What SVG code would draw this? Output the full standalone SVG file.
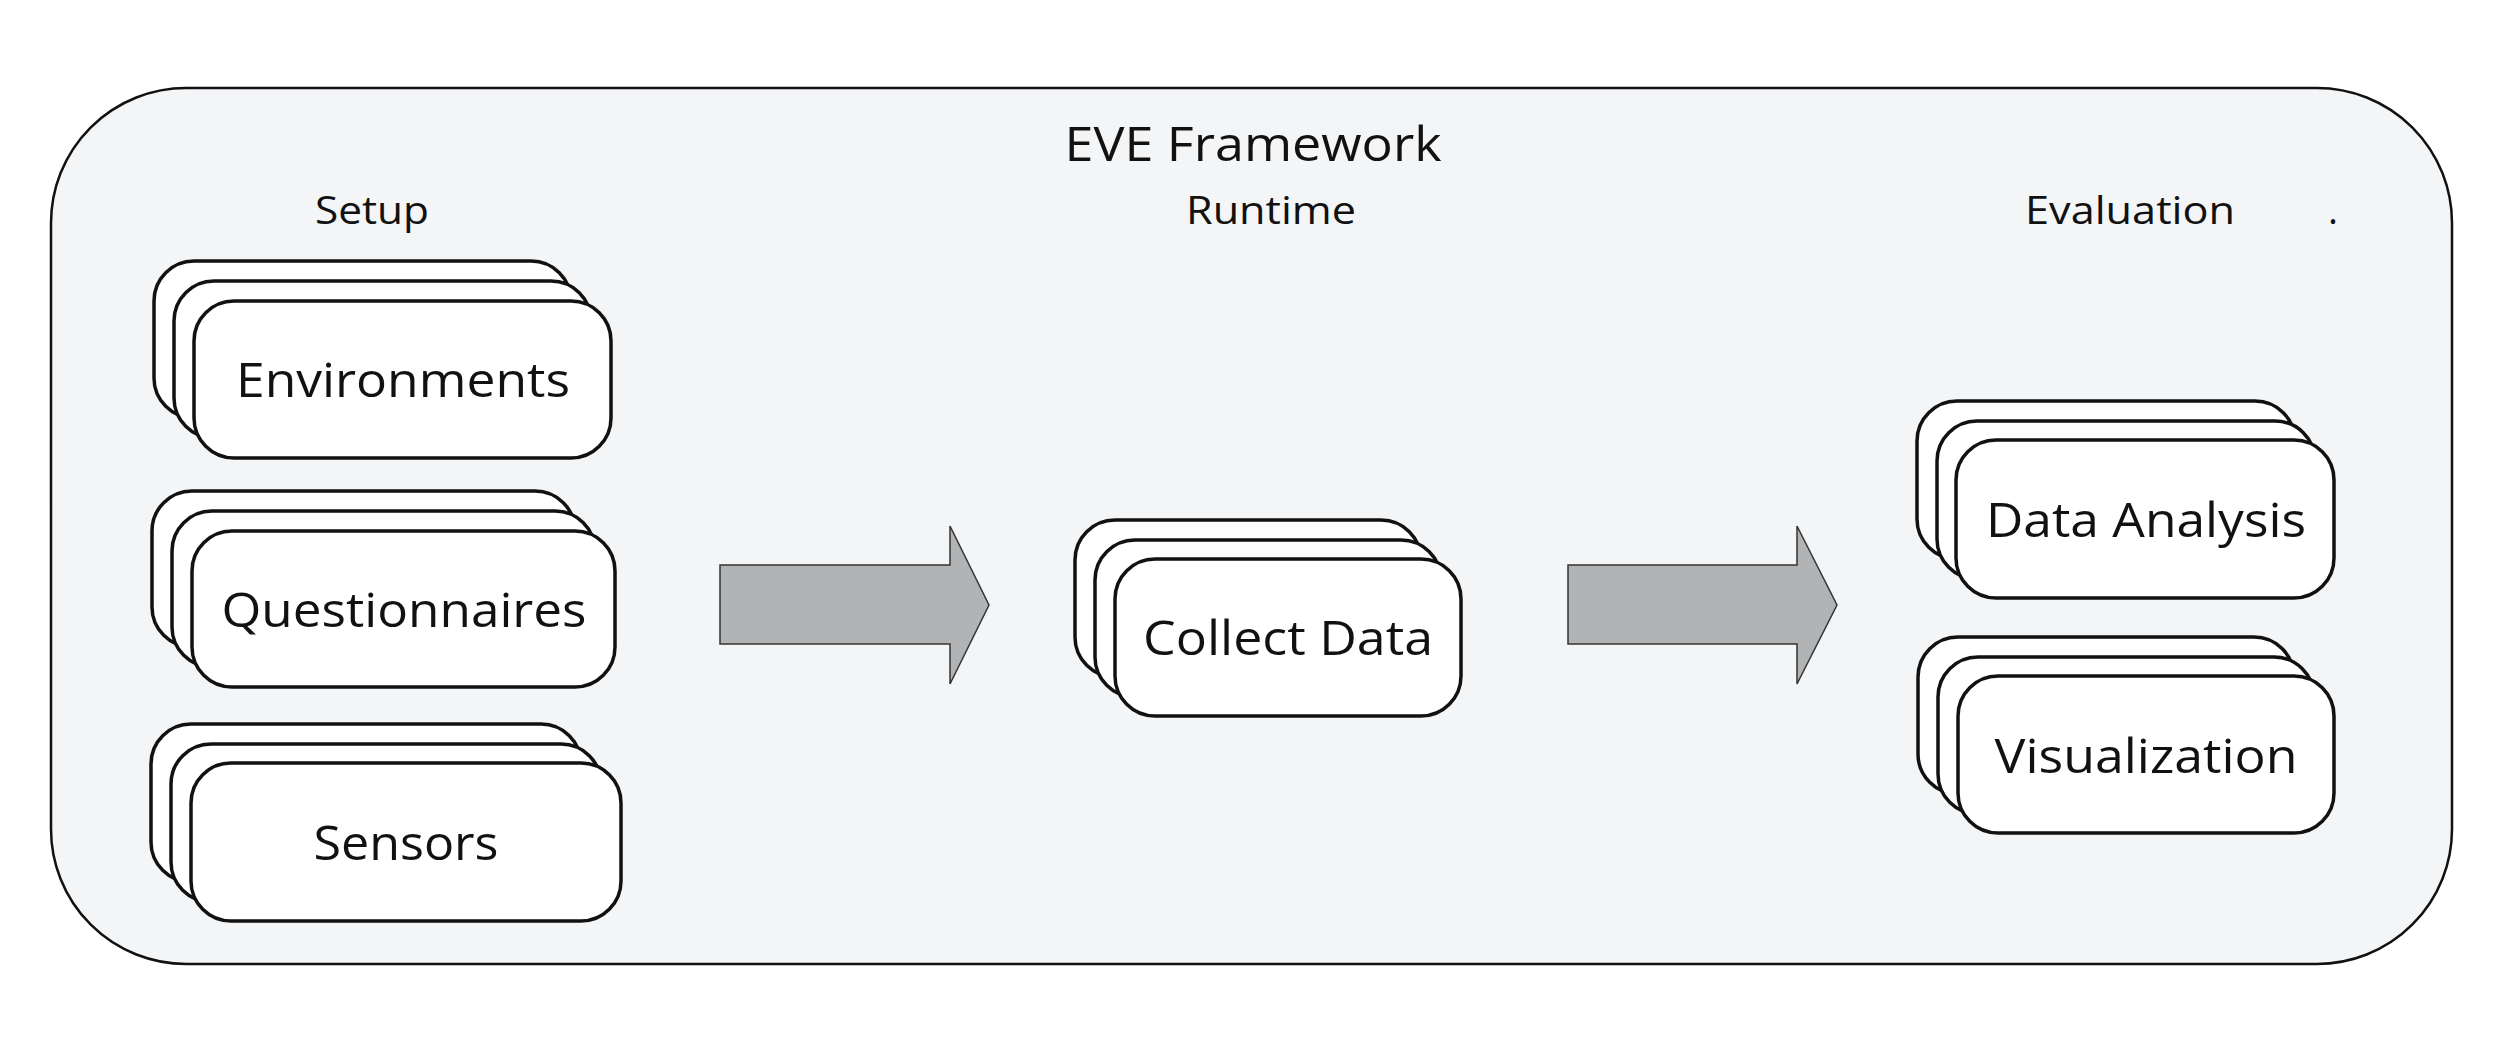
<svg xmlns="http://www.w3.org/2000/svg" width="2500" height="1055" viewBox="0 0 2500 1055">
<defs>
<style>
.frame{fill:#f4f5f7;stroke:#111;stroke-width:2.5}
.card{fill:#fff;stroke:#111;stroke-width:3.5}
.arrow{fill:#b1b3b4;stroke:#333;stroke-width:1.5}
text{font-family:"Open Sans","Liberation Sans",sans-serif;fill:#111;text-anchor:middle}
.title{font-size:48px}
.phase{font-size:38px}
.lbl{font-size:48px}
</style>
</defs>
<rect width="2500" height="1055" fill="#fff"/>
<g id="frame">
<rect class="frame" x="51" y="88" width="2401" height="876" rx="135"/>
<text class="title" x="1253" y="161" textLength="377" lengthAdjust="spacingAndGlyphs">EVE Framework</text>
<text class="phase" x="372" y="224" textLength="114" lengthAdjust="spacingAndGlyphs">Setup</text>
<text class="phase" x="1271" y="224" textLength="170" lengthAdjust="spacingAndGlyphs">Runtime</text>
<text class="phase" x="2130" y="224" textLength="210" lengthAdjust="spacingAndGlyphs">Evaluation</text>
<text class="phase" x="2333" y="224">.</text>
</g>
<g id="connectors">
<polygon class="arrow" points="720,565 950,565 950,526 989,605 950,684 950,644 720,644"/>
<polygon class="arrow" points="1568,565 1797,565 1797,526 1837,605 1797,684 1797,644 1568,644"/>
</g>
<g id="environments">
<rect class="card" x="154" y="261" width="417" height="157" rx="40"/>
<rect class="card" x="174" y="281" width="417" height="157" rx="40"/>
<rect class="card" x="194" y="301" width="417" height="157" rx="40"/>
<text class="lbl" x="403" y="397" textLength="334" lengthAdjust="spacingAndGlyphs">Environments</text>
</g>
<g id="questionnaires">
<rect class="card" x="152" y="491" width="423" height="156" rx="40"/>
<rect class="card" x="172" y="511" width="423" height="156" rx="40"/>
<rect class="card" x="192" y="531" width="423" height="156" rx="40"/>
<text class="lbl" x="404" y="627" textLength="365" lengthAdjust="spacingAndGlyphs">Questionnaires</text>
</g>
<g id="sensors">
<rect class="card" x="151" y="724" width="430" height="158" rx="40"/>
<rect class="card" x="171" y="744" width="430" height="158" rx="40"/>
<rect class="card" x="191" y="763" width="430" height="158" rx="40"/>
<text class="lbl" x="406" y="860" textLength="185" lengthAdjust="spacingAndGlyphs">Sensors</text>
</g>
<g id="collect-data">
<rect class="card" x="1075" y="520" width="346" height="157" rx="40"/>
<rect class="card" x="1095" y="540" width="346" height="157" rx="40"/>
<rect class="card" x="1115" y="559" width="346" height="157" rx="40"/>
<text class="lbl" x="1288" y="655" textLength="290" lengthAdjust="spacingAndGlyphs">Collect Data</text>
</g>
<g id="data-analysis">
<rect class="card" x="1917" y="401" width="378" height="158" rx="40"/>
<rect class="card" x="1937" y="421" width="378" height="158" rx="40"/>
<rect class="card" x="1956" y="440" width="378" height="158" rx="40"/>
<text class="lbl" x="2146" y="537" textLength="320" lengthAdjust="spacingAndGlyphs">Data Analysis</text>
</g>
<g id="visualization">
<rect class="card" x="1918" y="637" width="376" height="157" rx="40"/>
<rect class="card" x="1938" y="657" width="376" height="157" rx="40"/>
<rect class="card" x="1958" y="676" width="376" height="157" rx="40"/>
<text class="lbl" x="2146" y="773" textLength="303" lengthAdjust="spacingAndGlyphs">Visualization</text>
</g>
</svg>
